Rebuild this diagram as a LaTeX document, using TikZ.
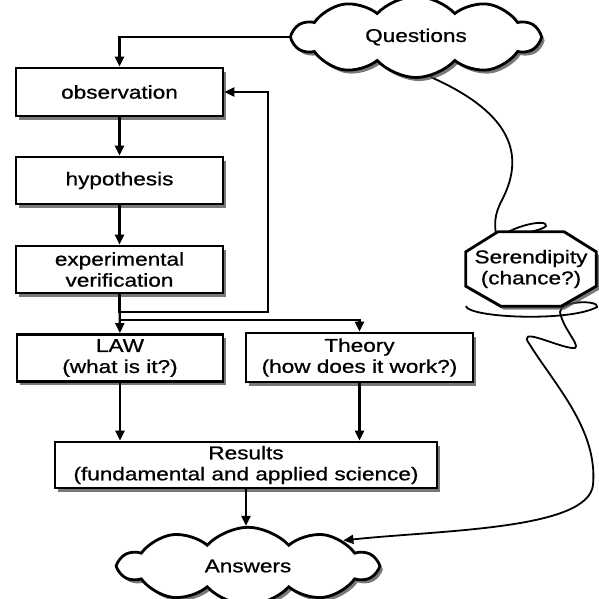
\documentclass[tikz,border=0pt]{standalone}
\usepackage{fontspec}
\setmainfont{Liberation Sans}[FakeStretch=1.22,FakeBold=0.8]
\usetikzlibrary{arrows.meta,shapes.symbols,shadows,backgrounds,calc}

\begin{document}
\begin{tikzpicture}[x=1pt,y=-1pt,
    font=\fontsize{18.5}{21}\selectfont,
    boxshadow/.style={drop shadow={shadow xshift=3pt,shadow yshift=-3.5pt,opacity=.75,fill=black!70}},
    box/.style={draw,line width=2.8pt,fill=white,align=center,inner sep=0pt,boxshadow},
    puff/.style={draw,cloud,cloud puffs=10,cloud puff arc=95,cloud ignores aspect,
        inner xsep=38pt,inner ysep=9pt,line width=2.8pt,fill=white,boxshadow},
    arr/.style={line width=2.2pt,-{Triangle[length=10pt,width=9pt]}},
    wire/.style={line width=1.8pt}]
    \useasboundingbox (0,0) rectangle (599,598);

    \node[puff] (q) at (416,37) {Questions};
    \node[puff,inner xsep=50pt] (ans) at (248,566) {Answers};

    \node[box,minimum width=207pt,minimum height=48pt] (obs) at (119.5,92) {observation};
    \node[box,minimum width=207pt,minimum height=47pt] (hyp) at (119.5,180.5) {hypothesis};
    \node[box,minimum width=207pt,minimum height=47pt] (exp) at (119.5,269.5) {experimental\\verification};

    \node[box,minimum width=206pt,minimum height=47pt] (law) at (120,358) {LAW\\(what is it?)};
    \node[box,minimum width=227pt,minimum height=49pt] (th) at (359.5,357.5) {Theory\\(how does it work?)};
    \node[box,minimum width=382pt,minimum height=46pt] (res) at (246,465) {Results\\(fundamental and applied science)};

    \node[minimum width=130pt,minimum height=74pt,inner sep=0pt,align=center] (ser) at (531,269) {Serendipity\\(chance?)};

    % main line
    \draw[arr] (q.west) -| (obs.north);
    \draw[arr] (obs) -- (hyp);
    \draw[arr] (hyp) -- (exp);
    \draw[arr] (exp) -- (law);

    % loop back and branch to theory
    \coordinate (fb) at (268,312);
    \coordinate (br) at (119.5,320);
    \draw[arr] (exp.south) |- (fb) |- (obs.east);
    \draw[arr] (br) -| (th.north);

    \draw[arr] (law) -- (law |- res.north);
    \draw[arr] (th) -- (th |- res.north);
    \draw[arr] (res.south) -- (res.south |- ans.north);

    % chance path
    \begin{scope}[on background layer]
    \draw[wire] (q.290) .. controls (505,110) and (528,150) .. (502,200)
        .. controls (494,215) and (494,225) .. (497,240)
        .. controls (510,226) and (548,218) .. (546,226)
        .. controls (540,234) and (470,238) .. (ser.west);
    \draw[wire,arr,line width=1.8pt] (ser.south west) .. controls (470,318) and (570,322) .. (597,307)
        .. controls (600,300) and (560,300) .. (560,312)
        .. controls (563,330) and (585,350) .. (572,348)
        .. controls (555,346) and (515,325) .. (530,345)
        .. controls (555,385) and (598,430) .. (593,485)
        .. controls (588,530) and (440,530) .. (ans.15);
    % octagon over the wires
    \draw[line width=2.8pt,fill=white,boxshadow]
        ($(ser.north west)+(32,0)$) -- ($(ser.north east)+(-32,0)$)
        -- ($(ser.north east)+(0,20)$) -- ($(ser.south east)+(0,-20)$)
        -- ($(ser.south east)+(-35,0)$) -- ($(ser.south west)+(35,0)$)
        -- ($(ser.south west)+(0,-20)$) -- ($(ser.north west)+(0,20)$) -- cycle;
    \end{scope}
\end{tikzpicture}
\end{document}
